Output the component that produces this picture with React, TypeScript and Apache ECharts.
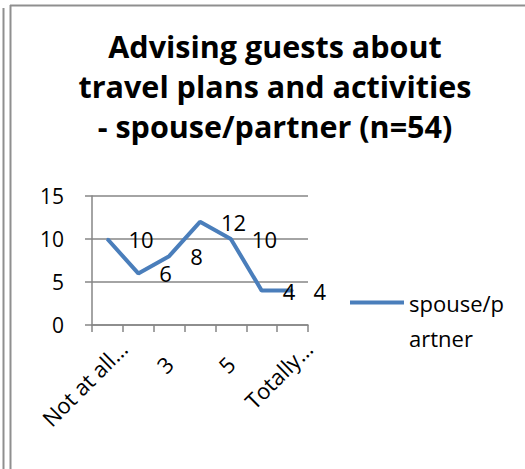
import React, { useEffect, useRef } from 'react';
import * as echarts from 'echarts';

const categories = ['Not at all…', '2', '3', '4', '5', '6', 'Totally…'];
const values = [10, 6, 8, 12, 10, 4, 4];
const seriesName = 'spouse/partner';
const legendLines = ['spouse/p', 'artner'];
const titleLines = ['Advising guests about', 'travel plans and activities', '- spouse/partner (n=54)'];
const yMin = 0;
const yMax = 15;
const yInterval = 5;

const FONT = 'Open Sans';
const GRID_COLOR = '#868686';
const LINE_COLOR = '#4a7ebb';
const BORDER = '#8f8f8f';

export default function App() {
  const ref = useRef<HTMLDivElement>(null);
  useEffect(() => {
    const chart = echarts.init(ref.current as HTMLDivElement, null, { renderer: 'svg' });
    chart.setOption({
      animation: false,
      backgroundColor: '#fff',
      title: {
        text: titleLines.join('\n'),
        left: 270,
        top: 21,
        textAlign: 'center',
        textStyle: { fontFamily: FONT, fontWeight: 'bold', fontSize: 30.5, lineHeight: 40, color: '#000' },
      },
      graphic: [
        { type: 'line', shape: { x1: 3.5, y1: 8, x2: 3.5, y2: 469 }, style: { stroke: BORDER, lineWidth: 2 } },
        { type: 'line', shape: { x1: 10.5, y1: 5, x2: 10.5, y2: 469 }, style: { stroke: BORDER, lineWidth: 2 } },
        { type: 'line', shape: { x1: 10, y1: 5.5, x2: 525, y2: 5.5 }, style: { stroke: BORDER, lineWidth: 2 } },
      ],
      grid: { left: 92, right: 217, top: 196, bottom: 144 },
      xAxis: {
        type: 'category',
        boundaryGap: true,
        data: categories.map((c) =>
          c.length > 2 ? { value: c, textStyle: { padding: [0, -22, 0, 0] } } : c
        ),
        axisLine: { lineStyle: { color: GRID_COLOR, width: 1.5 } },
        axisTick: { show: true, interval: 0, length: 7, lineStyle: { color: GRID_COLOR, width: 1.5 } },
        axisLabel: { interval: 1, rotate: 45, margin: 35, fontFamily: FONT, fontSize: 22, color: '#000' },
      },
      yAxis: {
        type: 'value',
        min: yMin,
        max: yMax,
        interval: yInterval,
        axisLine: { show: true, lineStyle: { color: GRID_COLOR, width: 1.5 } },
        axisTick: { show: true, length: 7, lineStyle: { color: GRID_COLOR, width: 1.5 } },
        splitLine: { lineStyle: { color: GRID_COLOR, width: 1.5 } },
        axisLabel: { margin: 28, fontFamily: FONT, fontSize: 21, color: '#000' },
      },
      legend: {
        left: 345,
        top: 280,
        itemWidth: 54,
        itemHeight: 39,
        itemGap: 0,
        icon: 'path://M0,0H54V4H0Z M0,39H54V39.01H0Z',
        itemStyle: { borderWidth: 0, color: LINE_COLOR },
        formatter: () => legendLines.join('\n'),
        textStyle: { fontFamily: FONT, fontSize: 22, lineHeight: 35, color: '#000' },
      },
      series: [
        {
          type: 'line',
          name: seriesName,
          data: values,
          symbol: 'circle',
          symbolSize: 2,
          itemStyle: { color: LINE_COLOR },
          lineStyle: { color: LINE_COLOR, width: 4 },
          label: {
            show: true,
            position: 'right',
            distance: 20,
            fontFamily: FONT,
            fontSize: 22,
            color: '#000',
          },
        },
      ],
    });
    return () => chart.dispose();
  }, []);
  return (
    <div
      ref={ref}
      style={{ position: 'absolute', left: 0, top: 0, width: 525, height: 469 }}
    />
  );
}
